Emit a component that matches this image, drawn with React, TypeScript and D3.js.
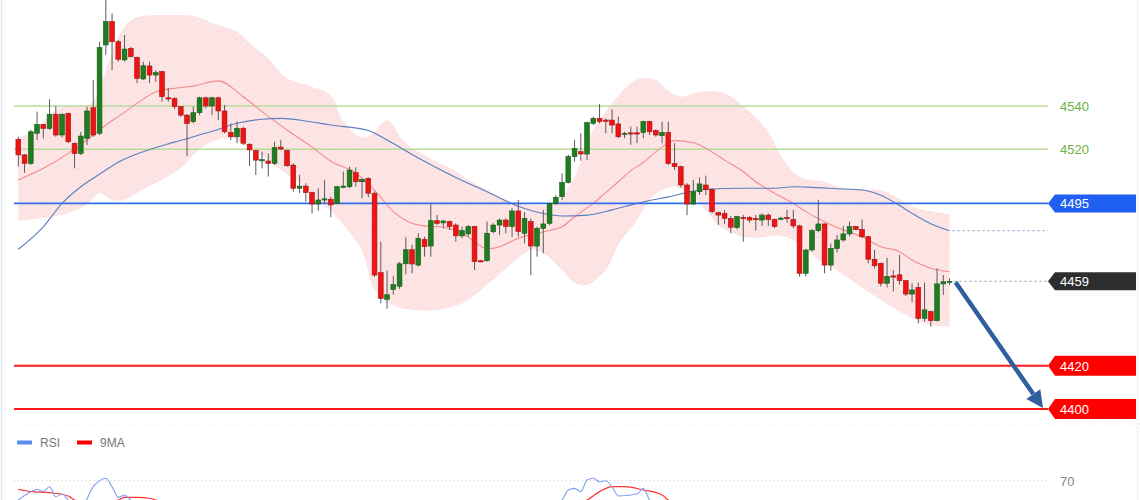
import React from "react";
import * as d3 from "d3";

// [open, high, low, close]
const candles: [number, number, number, number][] = [
  [4524.6,4525.8,4512.0,4517.4],[4517.4,4517.8,4509.2,4513.5],[4513.5,4528.9,4512.7,4528.1],[4527.4,4537.4,4524.3,4531.5],
  [4531.5,4531.5,4525.0,4529.7],[4529.7,4543.1,4528.9,4536.2],[4536.2,4540.0,4525.8,4526.6],[4526.6,4536.6,4525.5,4536.2],
  [4536.6,4536.9,4522.8,4523.5],[4522.8,4523.1,4511.2,4518.1],[4518.1,4528.1,4517.4,4526.1],[4525.1,4539.7,4522.0,4537.7],
  [4539.2,4552.0,4525.8,4526.6],[4527.4,4569.7,4526.6,4567.0],[4568.2,4592.0,4563.6,4579.0],[4579.0,4582.8,4556.6,4569.7],
  [4569.7,4570.5,4560.5,4561.6],[4561.3,4572.8,4560.5,4566.3],[4566.6,4567.4,4562.5,4562.8],[4562.5,4562.8,4550.5,4552.8],
  [4552.5,4560.5,4552.0,4558.6],[4558.5,4560.5,4550.5,4554.3],[4554.3,4556.6,4551.2,4555.4],[4555.9,4556.2,4542.0,4544.3],
  [4543.8,4548.2,4542.0,4543.5],[4543.5,4544.0,4538.5,4539.7],[4539.7,4540.0,4535.0,4535.8],[4535.8,4536.2,4516.9,4532.0],
  [4532.8,4539.7,4532.0,4536.9],[4536.9,4544.3,4535.8,4543.8],[4543.8,4544.3,4538.9,4540.0],[4540.0,4544.3,4535.8,4543.8],
  [4543.8,4544.3,4533.5,4537.7],[4537.7,4540.5,4527.4,4528.1],[4527.8,4532.0,4524.3,4525.8],[4525.8,4532.8,4522.8,4529.7],
  [4529.7,4530.5,4522.0,4522.8],[4522.3,4522.8,4512.3,4519.7],[4519.4,4519.7,4508.1,4515.0],[4515.0,4518.9,4511.2,4515.2],
  [4514.6,4518.1,4507.4,4513.5],[4513.5,4523.5,4512.7,4520.8],[4521.0,4524.3,4519.7,4520.1],[4519.5,4519.8,4512.0,4512.4],
  [4512.7,4513.5,4500.4,4502.0],[4502.0,4508.1,4499.7,4503.0],[4503.0,4504.3,4495.8,4500.0],[4500.0,4500.4,4490.4,4494.7],
  [4494.7,4502.0,4491.6,4496.6],[4496.9,4505.8,4495.0,4497.1],[4496.9,4498.1,4488.6,4494.3],[4495.0,4503.0,4494.7,4502.7],
  [4502.4,4509.7,4502.0,4503.0],[4502.7,4512.0,4502.0,4510.4],[4509.2,4511.7,4502.7,4505.0],[4505.0,4506.6,4497.3,4506.1],
  [4506.6,4507.0,4497.8,4499.7],[4499.7,4500.5,4461.1,4461.9],[4463.0,4477.3,4448.8,4451.1],[4450.7,4464.0,4446.4,4452.8],
  [4455.2,4461.5,4452.8,4457.5],[4456.7,4467.9,4455.5,4467.1],[4467.1,4479.3,4462.3,4473.6],[4473.6,4475.8,4462.7,4467.0],
  [4466.5,4481.2,4465.8,4478.9],[4478.4,4479.6,4470.4,4475.0],[4475.3,4494.6,4470.4,4487.0],[4487.0,4489.6,4485.0,4485.8],
  [4486.0,4487.3,4483.5,4486.9],[4486.6,4487.0,4482.7,4484.3],[4485.0,4485.8,4477.3,4480.0],[4480.0,4484.3,4478.9,4482.4],
  [4480.9,4485.0,4479.6,4484.3],[4484.3,4484.6,4464.2,4468.1],[4468.5,4468.9,4467.8,4468.1],[4468.5,4486.6,4468.1,4481.2],
  [4481.9,4485.8,4481.2,4485.0],[4485.0,4488.1,4480.4,4487.3],[4487.3,4488.1,4481.2,4484.3],[4484.3,4492.7,4479.6,4491.5],
  [4491.5,4496.6,4479.6,4482.0],[4481.2,4491.0,4476.5,4488.1],[4486.6,4488.1,4461.9,4475.3],[4475.3,4484.3,4470.4,4483.5],
  [4483.5,4492.0,4471.9,4485.5],[4485.8,4495.3,4485.0,4495.0],[4495.0,4498.9,4494.3,4497.8],[4498.1,4508.9,4496.6,4504.7],
  [4504.7,4517.4,4504.2,4516.6],[4516.6,4524.3,4514.3,4520.4],[4518.9,4527.4,4514.7,4517.8],[4517.8,4532.8,4515.0,4532.3],
  [4532.0,4535.1,4531.2,4534.3],[4534.3,4540.9,4532.0,4532.8],[4533.5,4534.3,4527.4,4533.2],[4533.5,4538.5,4527.4,4531.2],
  [4531.7,4535.1,4525.1,4525.8],[4527.2,4528.1,4525.1,4527.4],[4527.6,4530.5,4522.1,4527.3],[4527.6,4530.5,4522.8,4527.4],
  [4527.8,4533.2,4525.1,4532.8],[4532.8,4533.2,4526.6,4528.1],[4528.6,4529.2,4525.8,4526.6],[4526.3,4532.8,4522.8,4527.8],
  [4527.8,4532.8,4512.7,4513.5],[4513.5,4522.8,4510.4,4512.0],[4512.0,4512.4,4502.4,4503.5],[4503.5,4504.3,4489.6,4494.7],
  [4494.7,4505.8,4494.3,4500.4],[4500.4,4507.0,4498.9,4504.0],[4503.5,4507.8,4498.9,4501.5],[4501.5,4502.0,4490.4,4491.2],
  [4490.7,4491.2,4485.0,4489.6],[4490.4,4491.9,4485.5,4488.1],[4488.1,4489.2,4481.2,4484.0],[4483.8,4489.2,4483.0,4488.9],
  [4488.5,4489.6,4477.3,4488.3],[4488.5,4489.2,4486.1,4487.3],[4488.0,4489.6,4482.4,4487.8],[4487.3,4490.4,4484.6,4489.6],
  [4489.6,4490.4,4484.6,4487.6],[4487.6,4488.0,4483.5,4484.3],[4488.0,4488.8,4487.3,4488.2],[4488.5,4492.0,4486.1,4488.0],
  [4487.6,4492.0,4483.5,4484.6],[4484.6,4485.1,4461.2,4462.7],[4462.7,4473.8,4461.2,4473.5],[4473.5,4483.1,4472.7,4482.4],
  [4482.4,4496.6,4481.6,4485.5],[4485.5,4485.8,4462.7,4466.5],[4466.5,4476.5,4463.9,4474.2],[4474.2,4480.4,4472.3,4478.1],
  [4478.1,4484.6,4477.3,4480.9],[4480.9,4486.6,4479.8,4484.3],[4484.3,4484.6,4482.7,4483.0],[4483.0,4487.6,4479.0,4479.6],
  [4479.6,4479.9,4467.3,4469.2],[4469.2,4473.5,4464.9,4466.2],[4467.3,4467.6,4456.6,4458.1],[4458.1,4469.9,4456.2,4461.2],
  [4461.5,4464.2,4454.3,4461.1],[4462.0,4471.2,4457.5,4459.3],[4459.3,4459.6,4452.2,4453.1],[4453.1,4458.1,4449.3,4455.0],
  [4456.2,4458.4,4439.6,4441.9],[4441.9,4458.4,4440.4,4445.8],[4445.0,4445.4,4438.0,4440.8],[4440.8,4465.0,4440.4,4457.8],
  [4457.8,4461.9,4452.7,4458.8],[4458.8,4460.4,4457.3,4459.0],
];

// Bollinger band edges (candle index -> price)
const upperIdx = [0,2,6,8,10,12,14,16,18,20,25,28,32,35,37,40,43,47,50,52,55,57,59,62,66,70,72,75,78,82,86,89,92,95,98,100,102,104,106,109,113,116,120,122,125,129,132,135,138,141,143,146,149];
const upperVals = [4525.8,4527.4,4538.2,4540,4540,4542,4556,4572,4579.7,4581.6,4582,4581.6,4577.4,4574.3,4569,4562,4552.8,4548.9,4545,4533,4525.5,4528,4533.5,4522.8,4515.8,4510,4505.8,4501.2,4496.6,4494.3,4495,4507.3,4528.9,4541.2,4550.5,4553,4552,4547,4544.3,4546.6,4545.9,4540,4528,4517,4507.3,4505,4502,4501.5,4501,4497,4493.5,4491.5,4490];
const lowerIdx = [0,4,8,11,13,15,17,20,23,26,28,30,32,34,36,39,42,45,48,51,55,57,60,63,68,72,75,79,82,84,87,89,91,94,96,99,101,103,105,107,110,112,115,118,122,125,128,131,134,138,143,146,149];
const lowerVals = [4486.8,4488.2,4490.6,4494.5,4499.8,4496.6,4496.6,4501.5,4506,4511.3,4517.4,4522,4524.5,4525.2,4522.5,4517,4510.4,4504.4,4496.6,4488.5,4473,4455,4448,4445.7,4446.2,4450.4,4457.3,4467.4,4473.5,4472,4464.2,4458.2,4457.3,4464.2,4475.8,4487.3,4496.6,4501.2,4502.7,4500,4492,4485,4480.4,4479,4480,4476,4469,4464,4458,4450.4,4442,4438.8,4437.9];

// short moving average (red) and long moving average (blue)
const maShortIdx = [0,4,8,12,14,16,19,22,25,28,32,36,39,43,47,50,54,57,60,63,65,68,71,73,75,77,80,84,87,89,92,94,96,98,100,103,105,108,110,113,116,118,121,124,126,129,132,135,138,141,143,146,149];
const maShortVals = [4505.8,4511.2,4518.1,4526.6,4531.2,4535.1,4541.2,4546.6,4548.2,4549.2,4551.6,4544.3,4537.4,4528.9,4521,4514.5,4509,4501,4491.2,4485.8,4484.6,4484,4481.2,4477.3,4474,4475,4478.9,4481.9,4484.2,4488.8,4495,4500,4505,4510,4514,4521,4524,4523,4520.5,4515,4509.6,4505,4499.7,4495,4491.2,4486.5,4482.7,4479.6,4475,4472.7,4468.8,4465,4463.4];
const maLongIdx = [0,4,7,10,13,16,20,25,31,35,39,42,46,50,56,59,63,70,75,80,84,87,91,95,99,104,110,116,121,124,127,131,135,138,141,143,146,149];
const maLongVals = [4473.8,4484.2,4495,4502.7,4508.5,4514,4518.9,4523.3,4528.3,4532,4533.9,4534.3,4533.1,4531.2,4528.7,4524.3,4517.6,4507,4500.4,4493.7,4490.3,4489.2,4489.6,4492,4495,4498,4501.5,4502,4502,4502.7,4502.4,4501.8,4501.2,4498.8,4494,4490.4,4485.6,4482.4];

// RSI pane
const rsiIdx = [0,2,3,4,5,6,7,8,10,12,14,15,16,17,18,22,30,40,50,58,65,75,85,87,88,89,90,91,92,93,94,95,96,99,100,101,105,110,120,130,140,149];
const rsiVals = [57.1,62.7,64.3,62.7,66,59.3,61.1,57.1,52,66,71.6,66,58.9,60.5,57,50,42,40,35,25,40,45,52,57.1,63.8,64.9,62.7,70.5,71.6,69.3,70,66,59.8,61.1,64.9,57.1,45,35,40,38,30,40];
const rsiMaIdx = [0,2,5,8,9,12,16,17,19,21,22,30,45,60,75,85,91,93,95,97,100,103,104,110,120,135,149];
const rsiMaVals = [64.3,62.7,62,59.8,57.1,55,57.1,58.9,58.9,58.3,57.1,48,40,33,40,48,57.1,62.7,66,66,63.8,60.5,57.1,48,40,36,35];
const rsiLevel = 70;
const legendItems = ["RSI", "9MA"];

// horizontal levels
const greenLevels = [4540, 4520];
const blueLevel = 4495;
const redLevels = [4420, 4400];
const lastPrice = 4459;
const targetPrice = 4400;

const FONT = "'Liberation Sans', Arial, Helvetica, sans-serif";

export default function App() {
  const W = 1140, H = 500;
  const x = d3.scaleLinear().domain([0, candles.length - 1]).range([18.3, 949.55]);
  const y = d3.scaleLinear().domain([4400, 4540]).range([409, 106]);
  const ry = d3.scaleLinear().domain([0, 100]).range([585.7, 435.7]);

  const left = 14, lineRight = 1048, tagRight = 1136, labelX = 1060;

  const pts = (idx: number[], vals: number[], sy: (v: number) => number) =>
    idx.map((d, i) => [x(d), sy(vals[i])] as [number, number]);
  const mono = d3.line().curve(d3.curveMonotoneX);
  const cr = d3.line().curve(d3.curveCatmullRom.alpha(0.5));

  const up = pts(upperIdx, upperVals, y);
  const lo = pts(lowerIdx, lowerVals, y).reverse();
  const bandPath = (cr(up) as string) + "L" + (cr(lo) as string).slice(1) + "Z";

  const tagPath = (yy: number, h: number) =>
    `M${lineRight},${yy} L${lineRight + 7},${yy - h / 2} L${tagRight},${yy - h / 2} L${tagRight},${yy + h / 2} L${lineRight + 7},${yy + h / 2} Z`;

  // arrow
  const ax0 = x(candles.length - 1) + 6, ay0 = y(lastPrice) + 1;
  const ax1 = lineRight - 5, ay1 = y(targetPrice) - 1;
  const dx = ax1 - ax0, dy = ay1 - ay0, len = Math.hypot(dx, dy);
  const ux = dx / len, uy = dy / len;
  const headL = 17, headW = 8.5;
  const bx = ax1 - ux * headL, by = ay1 - uy * headL;
  const head = `M${ax1},${ay1} L${bx - uy * headW},${by + ux * headW} L${bx + uy * headW},${by - ux * headW} Z`;

  const lastLong = maLongVals[maLongVals.length - 1];
  const lastIdxX = x(candles.length - 1);

  return (
    <svg width={W} height={H} style={{ position: "fixed", left: 0, top: 0, background: "#fff" }} fontFamily={FONT}>
      <defs>
        <pattern id="hatch" width="5" height="5" patternUnits="userSpaceOnUse" patternTransform="rotate(-25)">
          <rect width="5" height="5" fill="#fde5e5" />
          <line x1="0" y1="0.5" x2="5" y2="0.5" stroke="#f7cfcf" strokeWidth="0.7" strokeDasharray="1 1.5" />
        </pattern>
        <clipPath id="plot"><rect x="0" y="0" width={W} height={H} /></clipPath>
      </defs>
      <rect width={W} height={H} fill="#fff" />
      <line x1={1.5} x2={1.5} y1={0} y2={H} stroke="#e2e7ef" strokeWidth={1.5} />
      <line x1={1137.5} x2={1137.5} y1={0} y2={H} stroke="#eceef2" strokeWidth={1} />

      {/* Bollinger band */}
      <path d={bandPath} fill="url(#hatch)" stroke="none" />

      {/* levels */}
      {greenLevels.map((v) => (
        <g key={v}>
          <line x1={left} x2={lineRight} y1={y(v)} y2={y(v)} stroke="#b7dc9a" strokeWidth={1.5} />
          <text x={labelX} y={y(v) + 5} fontSize={13} fill="#6db33f">{v}</text>
        </g>
      ))}

      {/* moving averages */}
      <path d={mono(pts(maShortIdx, maShortVals, y)) as string} fill="none" stroke="#f28b8b" strokeWidth={1.1} />
      <path d={mono(pts(maLongIdx, maLongVals, y)) as string} fill="none" stroke="#5a7ebf" strokeWidth={1.1} />

      <line x1={left} x2={lineRight} y1={y(blueLevel)} y2={y(blueLevel)} stroke="#2f6ff0" strokeWidth={1.8} />
      {redLevels.map((v) => (
        <line key={v} x1={left} x2={lineRight} y1={y(v)} y2={y(v)} stroke="#ff1a1a" strokeWidth={2} />
      ))}
      <line x1={lastIdxX + 3} x2={lineRight} y1={y(lastLong)} y2={y(lastLong)} stroke="#8a9cc6" strokeWidth={1} strokeDasharray="2 3" />
      <line x1={lastIdxX + 5} x2={lineRight} y1={y(lastPrice)} y2={y(lastPrice)} stroke="#999" strokeWidth={1} strokeDasharray="2 3" />

      {/* candles */}
      <g clipPath="url(#plot)">
        {candles.map(([o, h, l, c], i) => {
          const isUp = c >= o;
          const cx = x(i);
          const top = y(Math.max(o, c));
          const bot = y(Math.min(o, c));
          return (
            <g key={i}>
              <line x1={cx} x2={cx} y1={y(h)} y2={y(l)} stroke="#5a5a5a" strokeWidth={1} />
              <rect x={cx - 2.4} y={top} width={4.8} height={Math.max(bot - top, 1.2)}
                fill={isUp ? "#1f7d1f" : "#ee1414"} stroke={isUp ? "#175c17" : "#a81212"} strokeWidth={0.6} />
            </g>
          );
        })}
      </g>

      {/* tags */}
      <path d={tagPath(y(blueLevel), 18)} fill="#1f5ff2" />
      <text x={labelX} y={y(blueLevel) + 5} fontSize={13} fill="#fff">{blueLevel}</text>
      <path d={tagPath(y(lastPrice), 18)} fill="#2e2e2e" />
      <text x={labelX} y={y(lastPrice) + 5} fontSize={13} fill="#fff">{lastPrice}</text>
      {redLevels.map((v) => (
        <g key={v}>
          <path d={tagPath(y(v), 20)} fill="#ff0000" />
          <text x={labelX} y={y(v) + 5} fontSize={13} fill="#fff">{v}</text>
        </g>
      ))}

      {/* arrow */}
      <line x1={ax0} y1={ay0} x2={bx} y2={by} stroke="#2f5f9f" strokeWidth={4.5} strokeLinecap="butt" />
      <path d={head} fill="#2f5f9f" />

      {/* RSI pane */}
      <line x1={left} x2={W} y1={424} y2={424} stroke="#d4d4d4" strokeWidth={1} strokeDasharray="1 4" />
      <rect x={17} y={440.5} width={15} height={4} fill="#5b8ef0" />
      <text x={40} y={447} fontSize={12} fill="#777">{legendItems[0]}</text>
      <rect x={77} y={440.5} width={15} height={4} fill="#ff0000" />
      <text x={100} y={447} fontSize={12} fill="#777">{legendItems[1]}</text>
      <line x1={left} x2={lineRight} y1={ry(rsiLevel)} y2={ry(rsiLevel)} stroke="#c8c8c8" strokeWidth={1} strokeDasharray="1 3" />
      <text x={labelX} y={ry(rsiLevel) + 5} fontSize={13} fill="#888">{rsiLevel}</text>
      <path d={mono(pts(rsiMaIdx, rsiMaVals, ry)) as string} fill="none" stroke="#ff3030" strokeWidth={1.2} />
      <path d={mono(pts(rsiIdx, rsiVals, ry)) as string} fill="none" stroke="#7f9ff0" strokeWidth={1.1} />
    </svg>
  );
}
